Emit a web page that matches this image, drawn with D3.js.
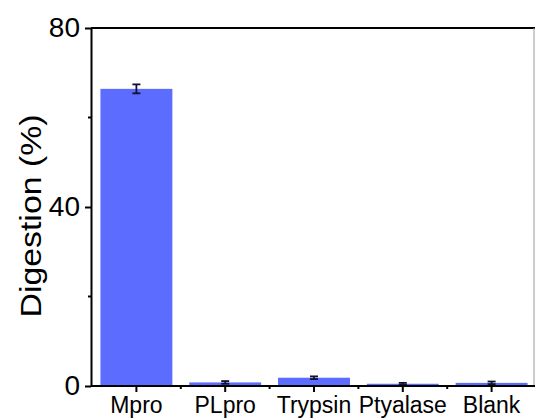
<!DOCTYPE html>
<meta charset="utf-8">
<style>
  body { margin: 0; background: #fff; }
  svg { display: block; font-family: "Liberation Sans", Arial, sans-serif; }
</style>
<body>
<div id="chart"></div>
<script src="https://d3js.org/d3.v7.min.js"></script>
<script>
  // data
  var enzymes = ["Mpro", "PLpro", "Trypsin", "Ptyalase", "Blank"];
  var digestion = [66.4, 0.8, 1.85, 0.5, 0.7];
  var errors = [1.0, 0.3, 0.3, 0.2, 0.3];
  var yTicks = [0, 40, 80];
  var yMinor = [20, 60];

  var W = 535, H = 419;
  var pLeft = 91, pTop = 28, pBottom = 386, pRight = 534;

  var svg = d3.select("#chart").append("svg")
    .attr("width", W).attr("height", H);

  var x = d3.scaleBand()
    .domain(enzymes)
    .range([pLeft + 1, 536])
    .paddingInner(0.19)
    .paddingOuter(0.095);

  var y = d3.scaleLinear()
    .domain([0, 80])
    .range([pBottom, pTop]);

  var rows = enzymes.map(function (e, i) {
    return { name: e, v: digestion[i], err: errors[i] };
  });

  // bars
  svg.append("g").selectAll("rect")
    .data(rows).enter().append("rect")
    .attr("x", function (d) { return x(d.name); })
    .attr("y", function (d) { return y(d.v); })
    .attr("width", x.bandwidth())
    .attr("height", function (d) { return y(0) - y(d.v); })
    .attr("fill", "#5b6cfe");

  // error bars
  var eb = svg.append("g").attr("stroke", "#111133").attr("stroke-width", 1.8);
  rows.forEach(function (d) {
    var cx = x(d.name) + x.bandwidth() / 2;
    eb.append("line").attr("x1", cx).attr("x2", cx)
      .attr("y1", y(d.v + d.err)).attr("y2", y(d.v - d.err));
    [d.v + d.err, d.v - d.err].forEach(function (v) {
      eb.append("line").attr("x1", cx - 4).attr("x2", cx + 4)
        .attr("y1", y(v)).attr("y2", y(v));
    });
  });

  // frame top and right
  svg.append("line").attr("x1", pLeft).attr("x2", W)
    .attr("y1", pTop).attr("y2", pTop)
    .attr("stroke", "#000").attr("stroke-width", 2);
  svg.append("line").attr("x1", pRight).attr("x2", pRight)
    .attr("y1", pTop).attr("y2", pBottom)
    .attr("stroke", "#999").attr("stroke-width", 1);

  // y axis
  var yAxis = svg.append("g")
    .attr("transform", "translate(" + pLeft + ",0)")
    .call(d3.axisLeft(y).tickValues(yTicks).tickSize(6).tickSizeOuter(0).tickPadding(5));
  yAxis.select(".domain").attr("stroke-width", 2);
  yAxis.selectAll(".tick line").attr("stroke-width", 2);
  yAxis.selectAll(".tick text").attr("font-size", 28).attr("fill", "#000");
  yAxis.append("g").selectAll("line").data(yMinor).enter().append("line")
    .attr("x1", -3).attr("x2", 0)
    .attr("y1", function (d) { return y(d); }).attr("y2", function (d) { return y(d); })
    .attr("stroke", "#000").attr("stroke-width", 2);

  // x axis
  var xAxis = svg.append("g")
    .attr("transform", "translate(0," + pBottom + ")")
    .call(d3.axisBottom(x).tickSize(6).tickSizeOuter(0).tickPadding(5));
  xAxis.select(".domain").attr("stroke-width", 2).attr("d", "M" + pLeft + ",0H" + W);
  xAxis.selectAll(".tick line").attr("stroke-width", 2);
  xAxis.selectAll(".tick text").attr("font-size", 23).attr("fill", "#000");
  xAxis.append("g").selectAll("line").data(enzymes.slice(1)).enter().append("line")
    .attr("x1", function (d) { return x(d) - x.step() * 0.095; })
    .attr("x2", function (d) { return x(d) - x.step() * 0.095; })
    .attr("y1", 0).attr("y2", 3)
    .attr("stroke", "#000").attr("stroke-width", 2);

  // y title
  svg.append("text")
    .attr("transform", "translate(41," + 216 + ") rotate(-90)")
    .attr("text-anchor", "middle")
    .attr("font-size", 29)
    .attr("textLength", 203)
    .attr("lengthAdjust", "spacingAndGlyphs")
    .text("Digestion (%)");
</script>
</body>
